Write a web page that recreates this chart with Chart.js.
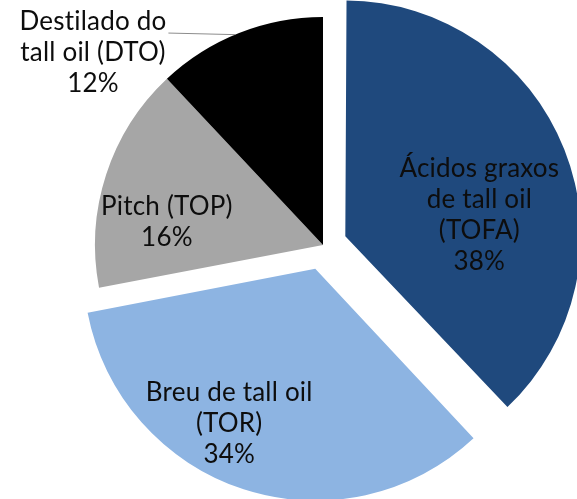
<!DOCTYPE html>
<html><head><meta charset="utf-8">
<script src="https://cdn.jsdelivr.net/npm/chart.js@4"></script>
<style>html,body{margin:0;padding:0;background:#fff;overflow:hidden}#wrap{width:577px;height:499px}</style>
</head><body><div id="wrap"><canvas id="c" width="577" height="499"></canvas></div>
<script>
const categories = ["Ácidos graxos de tall oil (TOFA)", "Breu de tall oil (TOR)", "Pitch (TOP)", "Destilado do tall oil (DTO)"];
const labelLines = [["Ácidos graxos", "de tall oil", "(TOFA)"], ["Breu de tall oil", "(TOR)"], ["Pitch (TOP)"], ["Destilado do", "tall oil (DTO)"]];
const shares = [38, 34, 16, 12];
const colors = ["#1F497D", "#8DB4E2", "#A6A6A6", "#000000"];
const explode = [96, 100, 0, 0];
// label placement: fraction along slice angle, fraction of radius
const labelPlace = [{f: 0.593, r: 0.595}, {f: 0.59, r: 0.778}, {f: 0.333, r: 0.692}, {f: -0.161, r: 1.314, leader: 0.475}];

const FONT = '26px Lato';
const LH = 31;

const labelPlugin = {
  id: 'sliceLabels',
  afterDatasetsDraw(chart) {
    const ctx = chart.ctx;
    const meta = chart.getDatasetMeta(0);
    ctx.save();
    ctx.font = FONT;
    if ('letterSpacing' in ctx) ctx.letterSpacing = '0.2px';
    ctx.fillStyle = '#0d0d0d';
    ctx.textAlign = 'center';
    ctx.textBaseline = 'middle';
    meta.data.forEach((arc, i) => {
      const p = arc.getProps(['x', 'y', 'startAngle', 'endAngle', 'outerRadius'], true);
      const mid = (p.startAngle + p.endAngle) / 2;
      const t = (explode[i] || 0) / 4;
      const cx = p.x + Math.cos(mid) * t;
      const cy = p.y + Math.sin(mid) * t;
      const pl = labelPlace[i];
      const ang = p.startAngle + pl.f * (p.endAngle - p.startAngle);
      const lx = cx + Math.cos(ang) * pl.r * p.outerRadius;
      const ly = cy + Math.sin(ang) * pl.r * p.outerRadius;
      const lines = labelLines[i].concat([shares[i] + '%']);
      const top = ly - (lines.length - 1) * LH / 2;
      lines.forEach((s, k) => ctx.fillText(s, lx, top + k * LH));
      if (pl.leader !== undefined) {
        const w = ctx.measureText(lines[0]).width;
        const a2 = p.startAngle + pl.leader * (p.endAngle - p.startAngle);
        ctx.strokeStyle = '#8c8c8c';
        ctx.lineWidth = 1;
        ctx.beginPath();
        ctx.moveTo(lx + w / 2 + 2, top + 11);
        ctx.lineTo(cx + Math.cos(a2) * p.outerRadius, cy + Math.sin(a2) * p.outerRadius);
        ctx.stroke();
      }
    });
    ctx.restore();
  }
};

new Chart(document.getElementById('c'), {
  type: 'pie',
  data: {
    labels: categories,
    datasets: [{
      data: shares,
      backgroundColor: colors,
      borderWidth: 0,
      offset: explode,
      hoverOffset: 0
    }]
  },
  options: {
    responsive: false,
    animation: false,
    radius: 228,
    layout: {padding: {left: 69, right: 0, top: 0, bottom: 9}},
    plugins: {legend: {display: false}, tooltip: {enabled: false}},
    events: []
  },
  plugins: [labelPlugin]
});
</script></body></html>
